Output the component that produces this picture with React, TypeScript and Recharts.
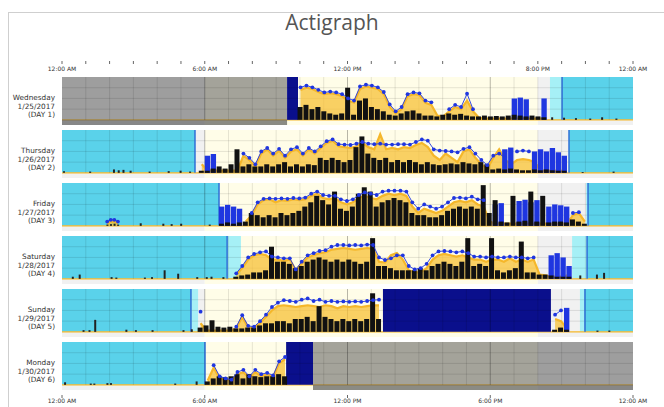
import React from 'react';
import {
  ComposedChart, XAxis, YAxis, Bar, Area, Line,
  ReferenceArea, ReferenceLine, ReferenceDot,
} from 'recharts';

const _ = null;

// ---------- tick labels ----------
const TOP_TICK_HOURS = [0,1,2,3,4,5,6,7,8,9,10,11,12,13,14,15,16,17,18,19,20,21,22,23,24];
const TOP_LABEL_HOURS = [0, 6, 12, 20, 24];
const TOP_LABELS = ['12:00 AM', '6:00 AM', '12:00 PM', '8:00 PM', '12:00 AM'];
const BOTTOM_TICK_HOURS = [0, 6, 12, 18, 24];
const BOTTOM_LABELS = ['12:00 AM', '6:00 AM', '12:00 PM', '6:00 PM', '12:00 AM'];
const GRID_HOURS = [1,2,3,4,5,6,7,8,9,10,11,12,13,14,15,16,17,18,19,20,21,22,23];
const MAJOR_HOURS = [6, 12, 18];
const GRID_LEVELS = [25, 50, 75];

// ---------- day 1 ----------
const day1Start = 9.9;
const day1Act = [30,35,25,30,20,15,12,15,75,12, 45,50,30,25,20,12,10,15,20,22, 15,10,10,8,12,15,12,14,10,8, 8,10,8,9,8,10,12,10,8,10, 8,6];
const day1Light = [70,75,72,65,60,62,60,55,45,40, 72,78,75,72,60,30,15,25,55,60, 58,40,35,10,8,20,30,25,45,20, 5,3,3,3,3,3,3,3,3,3, 3,3];
const day1Blue = [76,80,76,70,64,66,64,60,50,45, 78,82,80,76,65,36,20,30,60,64, 62,45,41,_,_,25,35,30,61,25, _,_,_,_,_,_,_,_,_,_, _,_];
const day1Block = [_,_,_,_,_,_,_,_,_,_, _,_,_,_,_,_,_,_,_,_, _,_,_,_,_,_,_,_,_,_, _,_,_,_,_,_, 50,52,48,_,_,50];
const day1SleepHours = [20.6, 21.1, 21.6, 22.2, 22.7, 23.3];
const day1SleepAct = [6, 5, 4, 3, 6, 3];

// ---------- day 2 ----------
const day2Start = 5.75;
const day2Act = [5,5,10,15,10,20,55,15,20,15, 15,20,15,20,25,15,20,15,20,18, 35,30,35,30,25,30,60,85,45,35, 30,35,25,30,25,30,25,20,25,20, 18,20,22,20,25,22,20,25,20,8, 10,8,10,8,6,6,8,6,8,6, 5,5];
const day2Light = [20,5,5,5,5,5,5,40,30,15, 45,55,40,52,35,50,55,40,55,45, 58,70,75,62,60,58,62,70,60,55, 90,55,58,55,60,58,65,70,60,40, 30,45,35,25,50,55,35,20,10,35, 55,30,20,30,32,30,25,5,5,5, 5,5];
const day2Blue = [_,_,_,_,_,_,_,45,35,20, 50,58,45,56,40,55,60,45,58,50, 62,74,78,67,66,65,68,72,68,67, 68,66,66,67,67,66,72,78,75,55, 52,51,50,48,56,60,45,30,18,40, 45,35,_,50,52,50,_,_,_,_, _,_];
const day2Block = [_,40,44,_,_,_,_,_,_,_, _,_,_,_,_,_,_,_,_,_, _,_,_,_,_,_,_,_,_,_, _,_,_,_,_,_,_,_,_,_, _,_,_,_,_,_,_,_,_,_, _,55,59,_,_,_,50,55,50,58, 48,40];
const day2SleepHours = [0.1, 1.2, 2.2, 2.4, 2.6, 2.9, 3.7, 4.5, 5.0, 5.4, 21.9, 23.2];
const day2SleepAct = [4, 3, 8, 6, 7, 5, 3, 4, 5, 3, 2, 3];

// ---------- day 3 ----------
const day3Start = 6.6;
const day3Act = [5,8,5,8,10,30,25,20,25,20, 30,25,30,35,45,55,70,60,50,80, 40,35,45,75,90,80,45,55,60,65, 60,55,30,25,25,20,20,25,35,40, 45,40,45,40,95,30,60,10,8,70, 10,12,80,10,70,8,10,10,8,15, 10,5];
const day3Light = [_,_,_,_,10,25,50,60,62,55, 60,58,62,60,62,70,75,65,62,65, 55,50,55,65,70,65,62,70,75,72, 75,70,45,30,40,35,30,35,45,55, 58,55,60,50,45,10,5,5,5,5, 5,5,5,5,5,5,5,5,5,25, 30,10];
const day3Blue = [_,_,_,_,_,30,55,63,64,63, 64,63,65,64,66,75,80,72,70,70, 62,58,62,72,78,75,72,80,82,82, 82,80,55,40,50,45,40,45,55,65, 66,64,68,62,60,_,_,_,_,_, _,_,_,_,_,_,_,_,_,30, 32,_];
const day3Block = [45,49,45,40,_,_,_,_,_,_, _,_,_,_,_,_,_,_,_,_, _,_,_,_,_,_,_,_,_,_, _,_,_,_,_,_,_,_,_,_, _,_,_,_,_,_,50,53,_,_, 58,61,55,60,_,45,50,48,45,_, _,_];
const day3SleepHours = [1.9, 2.05, 2.2, 2.35, 3.3, 4.25, 4.6, 5.0, 6.2];
const day3SleepAct = [3, 4, 5, 3, 6, 5, 4, 5, 3];
const day3SleepLight = [6, 10, 10, 6, _, _, _, _, _];
const day3SleepBlue = [10, 14, 14, 10, _, _, _, _, _];

// ---------- day 4 ----------
const day4Start = 7.2;
const day4Act = [5,8,10,15,15,20,75,40,40,35, 25,30,40,45,50,45,40,45,40,45, 40,35,40,95,30,30,25,20,20,20, 20,25,20,30,35,40,35,30,40,95, 30,35,30,95,20,15,20,25,87,15, 15,10,10,8,5,5,5];
const day4Light = [10,25,45,55,58,55,45,45,42,45, 20,35,50,55,60,62,68,70,72,70, 68,70,72,70,40,38,55,60,45,20, 15,15,25,45,55,58,55,52,55,50, 45,45,40,45,45,40,48,40,45,40, 45,10,8,5,5,5,10];
const day4Blue = [13,30,50,58,62,64,52,50,48,48, 22,40,55,60,65,67,75,79,79,78, 79,78,80,79,50,44,48,55,55,30, 22,25,35,55,64,65,64,62,64,60, 52,52,50,52,50,50,52,50,50,48, 50,_,_,_,_,_,_];
const day4Block = [_,_,_,_,_,_,_,_,_,_, _,_,_,_,_,_,_,_,_,_, _,_,_,_,_,_,_,_,_,_, _,_,_,_,_,_,_,_,_,_, _,_,_,_,_,_,_,_,_,_, _,_,_,55,60,50,30];
const day4SleepHours = [0.47, 0.76, 2.1, 2.3, 3.5, 3.8, 4.33, 4.9, 5.7, 6.1, 6.3, 6.8, 21.8, 22.5, 22.8];
const day4SleepAct = [5, 10, 4, 3, 3, 4, 20, 12, 4, 4, 5, 4, 8, 10, 14];

// ---------- day 5 ----------
const day5Start = 5.7;
const day5Act = [10,15,27,12,10,12,8,8,10,10, 15,20,20,25,25,20,30,30,35,25, 60,35,30,25,30,25,30,25,30,90, 30];
const day5Light = [20,3,3,3,3,3,8,35,10,10, 20,35,50,60,62,60,58,60,62,60, 58,62,60,55,60,58,60,58,60,62, 62];
const day5Blue = [47,_,_,_,_,_,12,39,14,12, 25,40,58,68,74,72,70,75,78,72, 75,70,72,70,71,70,71,70,72,74, 75];
const day5Block: (number | null)[] = [];
const day5bStart = 20.6;
const day5bAct = [5, 10, 5];
const day5bLight = [30, 25, 8];
const day5bBlue = [40, 50, _];
const day5bBlock = [_, _, 56];
const day5SleepHours = [0.9, 1.15, 1.39, 2.7, 3.1, 3.8, 5.1, 5.45, 22.5, 23.0];
const day5SleepAct = [4, 4, 28, 5, 4, 4, 4, 6, 3, 3];

// ---------- day 6 ----------
const day6Start = 6.0;
const day6Act = [8,15,20,18,20,25,15,25,20,18, 20,20,25,20];
const day6Light = [10,40,15,12,10,25,30,15,30,20, 25,18,50,60];
const day6Blue = [_,46,20,15,12,30,35,20,35,25, 28,22,55,65];
const day6Block: (number | null)[] = [];
const day6SleepHours = [0.12, 1.2, 1.35, 1.9, 2.05, 4.75, 5.65];
const day6SleepAct = [6, 3, 3, 4, 4, 3, 8];

// ---------- colours ----------
const NIGHT = '#f1f1f1';
const DAYBG = '#fffde8';
const CYAN = '#5ad2ea';
const LCYAN = '#a6f0f6';
const NAVY = '#0a0f8c';
const GRAY = '#5a5a5a';
const YEL = '#f5b72a';
const BLUE = '#1f36e0';
const SLEEPLINE = '#2f6fd6';

type Span = [number, number];
interface Seg { start: number; act: (number|null)[]; light: (number|null)[]; blue: (number|null)[]; block: (number|null)[] }
interface DayDef {
  name: string; date: string; label: string;
  segs: Seg[];
  sleepHours: number[]; sleepAct: number[]; sleepLight?: (number|null)[]; sleepBlue?: (number|null)[];
  cyan: Span[]; lightCyan: Span[]; lines: number[]; navy: Span[]; gray: Span[];
}

const DAYS: DayDef[] = [
  { name: 'Wednesday', date: '1/25/2017', label: '(DAY 1)',
    segs: [{ start: day1Start, act: day1Act, light: day1Light, blue: day1Blue, block: day1Block }],
    sleepHours: day1SleepHours, sleepAct: day1SleepAct,
    cyan: [[21.02, 24]], lightCyan: [[20.51, 21.02]], lines: [21.02], navy: [[9.46, 9.92]], gray: [[0, 9.46]] },
  { name: 'Thursday', date: '1/26/2017', label: '(DAY 2)',
    segs: [{ start: day2Start, act: day2Act, light: day2Light, blue: day2Blue, block: day2Block }],
    sleepHours: day2SleepHours, sleepAct: day2SleepAct,
    cyan: [[0, 5.59], [21.31, 24]], lightCyan: [], lines: [5.59, 21.31], navy: [], gray: [] },
  { name: 'Friday', date: '1/27/2017', label: '(DAY 3)',
    segs: [{ start: day3Start, act: day3Act, light: day3Light, blue: day3Blue, block: day3Block }],
    sleepHours: day3SleepHours, sleepAct: day3SleepAct, sleepLight: day3SleepLight, sleepBlue: day3SleepBlue,
    cyan: [[0, 6.6], [22.11, 24]], lightCyan: [[22.03, 22.11]], lines: [6.6, 22.11], navy: [], gray: [] },
  { name: 'Saturday', date: '1/28/2017', label: '(DAY 4)',
    segs: [{ start: day4Start, act: day4Act, light: day4Light, blue: day4Blue, block: day4Block }],
    sleepHours: day4SleepHours, sleepAct: day4SleepAct,
    cyan: [[0, 6.94], [22.07, 24]], lightCyan: [[6.94, 7.52], [21.44, 22.07]], lines: [6.94, 22.07], navy: [], gray: [] },
  { name: 'Sunday', date: '1/29/2017', label: '(DAY 5)',
    segs: [
      { start: day5Start, act: day5Act, light: day5Light, blue: day5Blue, block: day5Block },
      { start: day5bStart, act: day5bAct, light: day5bLight, blue: day5bBlue, block: day5bBlock },
    ],
    sleepHours: day5SleepHours, sleepAct: day5SleepAct,
    cyan: [[0, 5.42], [21.98, 24]], lightCyan: [[5.42, 5.72], [21.77, 21.98]], lines: [5.42, 21.98], navy: [[13.49, 20.55]], gray: [] },
  { name: 'Monday', date: '1/30/2017', label: '(DAY 6)',
    segs: [{ start: day6Start, act: day6Act, light: day6Light, blue: day6Blue, block: day6Block }],
    sleepHours: day6SleepHours, sleepAct: day6SleepAct,
    cyan: [[0, 6.01]], lightCyan: [], lines: [6.01], navy: [[9.42, 10.55]], gray: [[10.55, 24]] },
];

const W = 664;
const PLOT_L = 62;
const PLOT_R = 31;
const ROW_H = 48;
const ROW_TOPS = [77, 130, 183, 236, 289, 342];
const SLOT = 0.25;

// rows for the light/blue curves (with break markers between recording segments)
function buildCurveRows(d: DayDef) {
  const rows: any[] = [];
  d.segs.forEach((s) => {
    rows.push({ t: s.start - 0.01, light: null, blue: null });
    s.act.forEach((_a, i) => {
      rows.push({ t: s.start + SLOT * i + SLOT / 2, light: s.light[i] ?? null, blue: s.blue[i] ?? null });
    });
    rows.push({ t: s.start + SLOT * s.act.length + 0.01, light: null, blue: null });
  });
  d.sleepHours.forEach((h, i) => {
    rows.push({
      t: h,
      light: d.sleepLight ? d.sleepLight[i] : null,
      blue: d.sleepBlue ? d.sleepBlue[i] : null,
    });
  });
  rows.sort((a, b) => a.t - b.t);
  return rows;
}

// rows for the 15-minute epoch bars (evenly spaced)
function buildEpochRows(d: DayDef) {
  const rows: any[] = [];
  d.segs.forEach((s) => {
    s.act.forEach((a, i) => {
      rows.push({ t: s.start + SLOT * i + SLOT / 2, act: a, block: s.block[i] ?? null });
    });
  });
  return rows;
}

function buildSleepRows(d: DayDef) {
  return d.sleepHours.map((h, i) => ({ t: h, sact: d.sleepAct[i] }));
}

const axisProps = { type: 'number' as const, dataKey: 't', domain: [0, 24], hide: true, allowDataOverflow: true };
const Y = <YAxis type="number" domain={[-12, 100]} hide allowDataOverflow />;
const layer: React.CSSProperties = { position: 'absolute', left: 0, top: 0 };

function DayRow({ d, top }: { d: DayDef; top: number }) {
  const curve = buildCurveRows(d);
  const epochs = buildEpochRows(d);
  const sleep = buildSleepRows(d);
  const base = { width: W, height: ROW_H, margin: { top: 0, right: PLOT_R, left: PLOT_L, bottom: 0 } };
  return (
    <div style={{ position: 'absolute', left: 0, top, width: W, height: ROW_H }}>
      {/* background layer */}
      <div style={layer}>
        <ComposedChart {...base} data={curve}>
          <XAxis xAxisId="a" {...axisProps} />
          {Y}
          <ReferenceArea xAxisId="a" x1={0} x2={6} y1={-12} y2={100} fill={NIGHT} fillOpacity={1} stroke="none" />
          <ReferenceArea xAxisId="a" x1={6} x2={20} y1={-12} y2={100} fill={DAYBG} fillOpacity={1} stroke="none" />
          <ReferenceArea xAxisId="a" x1={20} x2={24} y1={-12} y2={100} fill={NIGHT} fillOpacity={1} stroke="none" />
          {d.cyan.map((s, i) => (
            <ReferenceArea key={'c' + i} xAxisId="a" x1={s[0]} x2={s[1]} y1={0} y2={100} fill={CYAN} fillOpacity={1} stroke="none" />
          ))}
          {d.lightCyan.map((s, i) => (
            <ReferenceArea key={'lc' + i} xAxisId="a" x1={s[0]} x2={s[1]} y1={0} y2={100} fill={LCYAN} fillOpacity={1} stroke="none" />
          ))}
          <ReferenceArea xAxisId="a" x1={0} x2={24} y1={-1.6} y2={1.6} fill={YEL} fillOpacity={1} stroke="none" />
          {d.gray.map((s, i) => (
            <ReferenceArea key={'g' + i} xAxisId="a" x1={s[0]} x2={s[1]} y1={0} y2={100} fill={GRAY} fillOpacity={0.55} stroke="none" />
          ))}
          {d.gray.map((s, i) => (
            <ReferenceArea key={'gs' + i} xAxisId="a" x1={s[0]} x2={s[1]} y1={-12} y2={0} fill={GRAY} fillOpacity={0.7} stroke="none" />
          ))}
          {GRID_HOURS.map((h) => (
            <ReferenceLine key={'v' + h} xAxisId="a" segment={[{ x: h, y: 0 }, { x: h, y: 100 }]}
              stroke="#000" strokeOpacity={MAJOR_HOURS.includes(h) ? 0.28 : 0.1} strokeWidth={1} />
          ))}
          {GRID_LEVELS.map((y) => (
            <ReferenceLine key={'h' + y} xAxisId="a" y={y} stroke="#000" strokeOpacity={0.1} strokeWidth={1} />
          ))}
          {d.lines.map((h, i) => (
            <ReferenceLine key={'sl' + i} xAxisId="a" segment={[{ x: h, y: 0 }, { x: h, y: 100 }]} stroke={SLEEPLINE} strokeWidth={1.5} />
          ))}
          {d.navy.map((s, i) => (
            <ReferenceArea key={'n' + i} xAxisId="a" x1={s[0]} x2={s[1]} y1={0} y2={100} fill={NAVY} fillOpacity={1} stroke="none" />
          ))}
        </ComposedChart>
      </div>
      {/* white light */}
      <div style={layer}>
        <ComposedChart {...base} data={curve}>
          <XAxis xAxisId="a" {...axisProps} />
          {Y}
          <Area xAxisId="a" dataKey="light" type="linear" baseValue={0} stroke={YEL} strokeWidth={2.2}
            fill="#f7bf35" fillOpacity={0.74} isAnimationActive={false} dot={false} activeDot={false} />
        </ComposedChart>
      </div>
      {/* activity epochs and blue-light blocks */}
      <div style={layer}>
        <ComposedChart {...base} data={epochs}>
          <XAxis xAxisId="a" {...axisProps} />
          <XAxis xAxisId="b" {...axisProps} />
          {Y}
          <Bar xAxisId="b" dataKey="block" barSize={6} fill={BLUE} isAnimationActive={false} />
          <Bar xAxisId="a" dataKey="act" barSize={5} fill="#111" isAnimationActive={false} />
        </ComposedChart>
      </div>
      {/* activity while asleep */}
      <div style={layer}>
        <ComposedChart {...base} data={sleep}>
          <XAxis xAxisId="a" {...axisProps} />
          {Y}
          <Bar xAxisId="a" dataKey="sact" barSize={2} fill="#222" isAnimationActive={false} />
        </ComposedChart>
      </div>
      {/* blue light */}
      <div style={layer}>
        <ComposedChart {...base} data={curve}>
          <XAxis xAxisId="a" {...axisProps} />
          {Y}
          <Line xAxisId="a" dataKey="blue" type="linear" stroke={BLUE} strokeWidth={0.9}
            dot={{ r: 1.9, fill: BLUE, stroke: 'none' }} activeDot={false} isAnimationActive={false} />
        </ComposedChart>
      </div>
      <div style={{
        position: 'absolute', left: 0, top: 17, width: 55, textAlign: 'right',
        fontFamily: 'DejaVu Sans', fontSize: 7.3, lineHeight: '8.6px', color: '#333',
      }}>
        <div>{d.name}</div>
        <div>{d.date}</div>
        <div>{d.label}</div>
      </div>
    </div>
  );
}

const topFmt = (v: number) => {
  const i = TOP_LABEL_HOURS.indexOf(v);
  return i >= 0 ? TOP_LABELS[i] : '';
};
const bottomFmt = (v: number) => {
  const i = BOTTOM_TICK_HOURS.indexOf(v);
  return i >= 0 ? BOTTOM_LABELS[i] : '';
};
const SLIDER_DATA = [{ t: 0 }, { t: 24 }];
const tickStyle = { fontSize: 6, fill: '#333', fontFamily: 'DejaVu Sans' };

export default function App() {
  return (
    <div style={{ position: 'absolute', left: 0, top: 0, width: W, height: 407, background: '#fff', overflow: 'hidden' }}>
      <div style={{ position: 'absolute', left: 8, top: 12, width: 700, height: 420, borderLeft: '1px solid #cfcfcf', borderTop: '1px solid #cfcfcf' }} />
      <div style={{
        position: 'absolute', left: 0, top: 9, width: W, textAlign: 'center',
        fontFamily: 'Open Sans', fontSize: 21, lineHeight: '26px', color: '#555',
      }}>Actigraph</div>

      {/* range slider with top axis */}
      <div style={{ position: 'absolute', left: 0, top: 50 }}>
        <ComposedChart width={W} height={30} margin={{ top: 2, right: PLOT_R, left: PLOT_L, bottom: 0 }} data={SLIDER_DATA}>
          <XAxis type="number" dataKey="t" domain={[0, 24]} ticks={TOP_TICK_HOURS} interval={0}
            tickFormatter={topFmt} height={19} axisLine={false} tickSize={3} tickMargin={3}
            tick={tickStyle} tickLine={{ stroke: '#666' }} />
          <YAxis type="number" domain={[0, 1]} hide />
          <ReferenceArea x1={0} x2={6} y1={0} y2={1} fill="#dcdcdc" fillOpacity={1} stroke="none" />
          <ReferenceArea x1={6} x2={20} y1={0} y2={1} fill="#fdfbc6" fillOpacity={1} stroke="none" />
          <ReferenceArea x1={20} x2={24} y1={0} y2={1} fill="#dcdcdc" fillOpacity={1} stroke="none" />
          <ReferenceArea x1={0} x2={24} y1={0} y2={1} fill="none" fillOpacity={0} stroke="#8a8a8a" strokeWidth={1} />
          <ReferenceDot x={6} y={0.5} r={4} fill="#f0dc3c" stroke="#b9a514" strokeWidth={1} />
          <ReferenceDot x={20} y={0.5} r={2.5} fill="#42c3d6" stroke="#2a8fa0" strokeWidth={1} />
        </ComposedChart>
      </div>

      {DAYS.map((d, i) => <DayRow key={d.name} d={d} top={ROW_TOPS[i]} />)}

      {/* bottom axis */}
      <div style={{ position: 'absolute', left: 0, top: 392 }}>
        <ComposedChart width={W} height={15} margin={{ top: 1, right: PLOT_R, left: PLOT_L, bottom: 0 }} data={SLIDER_DATA}>
          <XAxis type="number" dataKey="t" domain={[0, 24]} ticks={BOTTOM_TICK_HOURS} interval={0}
            tickFormatter={bottomFmt} height={12} axisLine={false} tickSize={3} tickMargin={1}
            tick={tickStyle} tickLine={{ stroke: '#666' }} />
          <YAxis type="number" domain={[0, 1]} hide />
        </ComposedChart>
      </div>
    </div>
  );
}
